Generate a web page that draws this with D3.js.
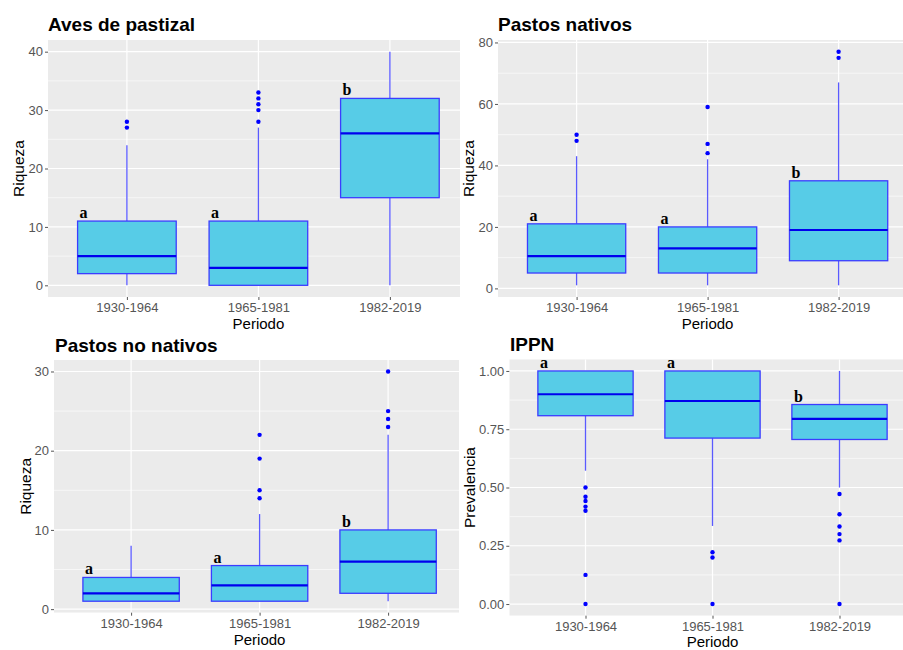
<!DOCTYPE html>
<html>
<head>
<meta charset="utf-8">
<script src="https://cdn.jsdelivr.net/npm/d3@7"></script>
<style>
  body { margin: 0; background: #fff; }
  svg { display: block; font-family: "Liberation Sans", Arial, sans-serif; }
</style>
</head>
<body>
<svg id="chart" width="903" height="650"></svg>
<script>
// categories shared by all four panels
const periods = ["1930-1964", "1965-1981", "1982-2019"];

// box stats per period: [lower whisker, q1, median, q3, upper whisker]
const avesStats = [[0, 2, 5, 11, 24], [0, 0, 3, 11, 27], [0, 15, 26, 32, 40]];
const avesOutliers = [[27, 28], [28, 30, 31, 32, 33], []];
const avesLetters = ["a", "a", "b"];
const avesTicks = [0, 10, 20, 30, 40];

const nativosStats = [[1, 5, 10.5, 21, 43], [1, 5, 13, 20, 42], [1, 9, 19, 35, 67]];
const nativosOutliers = [[48, 50], [44, 47, 59], [75, 77]];
const nativosLetters = ["a", "a", "b"];
const nativosTicks = [0, 20, 40, 60, 80];

const noNativosStats = [[1, 1, 2, 4, 8], [1, 1, 3, 5.5, 12], [1, 2, 6, 10, 22]];
const noNativosOutliers = [[], [14, 15, 19, 22], [23, 24, 25, 30]];
const noNativosLetters = ["a", "a", "b"];
const noNativosTicks = [0, 10, 20, 30];

const ippnStats = [[0.572, 0.808, 0.9, 1, 1], [0.335, 0.712, 0.871, 1, 1], [0.5, 0.706, 0.794, 0.856, 1]];
const ippnOutliers = [[0.5, 0.46, 0.442, 0.418, 0.4, 0.125, 0], [0.222, 0.2, 0], [0.472, 0.385, 0.333, 0.3, 0.273, 0]];
const ippnLetters = ["a", "a", "b"];
const ippnTicks = [0, 0.25, 0.5, 0.75, 1];

// panel placement (layout only)
const panels = [
    { title: "Aves de pastizal", yTitle: "Riqueza", stats: avesStats, outliers: avesOutliers,
      letters: avesLetters, ticks: avesTicks, fmt: d3.format("d"),
      x0: 48, step: 131.5, right: 460, top: 40, bottom: 297, titleX: 48, titleY: 31, yTitleX: 24 },
    { title: "Pastos nativos", yTitle: "Riqueza", stats: nativosStats, outliers: nativosOutliers,
      letters: nativosLetters, ticks: nativosTicks, fmt: d3.format("d"),
      x0: 498, step: 131, right: 903, top: 40, bottom: 297, titleX: 498, titleY: 31, yTitleX: 474 },
    { title: "Pastos no nativos", yTitle: "Riqueza", stats: noNativosStats, outliers: noNativosOutliers,
      letters: noNativosLetters, ticks: noNativosTicks, fmt: d3.format("d"),
      x0: 54, step: 128.5, right: 459, top: 360, bottom: 612.7, titleX: 55, titleY: 352, yTitleX: 31 },
    { title: "IPPN", yTitle: "Prevalencia", stats: ippnStats, outliers: ippnOutliers,
      letters: ippnLetters, ticks: ippnTicks, fmt: d3.format(".2f"),
      x0: 509.3, step: 127, right: 903, top: 359.3, bottom: 615.7, titleX: 510, titleY: 351, yTitleX: 475 }
];

const svg = d3.select("#chart");

panels.forEach(drawPanel);

function drawPanel(p, idx) {
    let g = svg.append("g");
    let fullW = p.step * 3.2;

    let x = d3.scalePoint().domain(periods)
        .range([p.x0, p.x0 + fullW]).padding(0.6);

    // ggplot style 5% expansion around data range
    let all = p.stats.flat().concat(p.outliers.flat());
    let lo = d3.min(all), hi = d3.max(all), pad = (hi - lo) * 0.05;
    let y = d3.scaleLinear().domain([lo - pad, hi + pad]).range([p.bottom, p.top]);

    let clipId = "clip" + idx;
    g.append("clipPath").attr("id", clipId)
        .append("rect")
        .attr("x", p.x0).attr("y", p.top)
        .attr("width", p.right - p.x0).attr("height", p.bottom - p.top);

    let bg = g.append("g").attr("clip-path", "url(#" + clipId + ")");
    bg.append("rect")
        .attr("x", p.x0).attr("y", p.top)
        .attr("width", fullW).attr("height", p.bottom - p.top)
        .attr("fill", "#EBEBEB");

    // minor grid lines halfway between major ticks
    let tstep = p.ticks[1] - p.ticks[0];
    let minor = [];
    for (let v = p.ticks[0] - tstep / 2; v <= hi + pad; v += tstep)
        if (v >= lo - pad) minor.push(v);

    bg.selectAll("line.minor").data(minor).enter().append("line")
        .attr("x1", p.x0).attr("x2", p.x0 + fullW)
        .attr("y1", d => y(d)).attr("y2", d => y(d))
        .attr("stroke", "#fff").attr("stroke-width", 0.6);

    bg.selectAll("line.major").data(p.ticks).enter().append("line")
        .attr("x1", p.x0).attr("x2", p.x0 + fullW)
        .attr("y1", d => y(d)).attr("y2", d => y(d))
        .attr("stroke", "#fff").attr("stroke-width", 1.2);

    bg.selectAll("line.vmajor").data(periods).enter().append("line")
        .attr("x1", d => x(d)).attr("x2", d => x(d))
        .attr("y1", p.top).attr("y2", p.bottom)
        .attr("stroke", "#fff").attr("stroke-width", 1.2);

    // axes
    let yAxis = g.append("g")
        .attr("transform", "translate(" + p.x0 + ",0)")
        .call(d3.axisLeft(y).tickValues(p.ticks).tickFormat(p.fmt).tickSize(3).tickPadding(2));
    let xAxis = g.append("g")
        .attr("transform", "translate(0," + p.bottom + ")")
        .call(d3.axisBottom(x).tickSize(3).tickPadding(3));

    [yAxis, xAxis].forEach(a => {
        a.select(".domain").remove();
        a.selectAll(".tick line").attr("stroke", "#555");
        a.selectAll(".tick text")
            .attr("fill", "#555")
            .style("font-size", "13px")
            .style("font-family", "'Liberation Sans', Arial, sans-serif");
    });

    // boxes
    let bw = p.step * 0.75;
    let box = g.selectAll("g.box").data(periods).enter().append("g").attr("class", "box");

    box.append("line")
        .attr("x1", d => x(d)).attr("x2", d => x(d))
        .attr("y1", (d, i) => y(p.stats[i][4])).attr("y2", (d, i) => y(p.stats[i][3]))
        .attr("stroke", "#5A5AFF").attr("stroke-width", 1.3);
    box.append("line")
        .attr("x1", d => x(d)).attr("x2", d => x(d))
        .attr("y1", (d, i) => y(p.stats[i][1])).attr("y2", (d, i) => y(p.stats[i][0]))
        .attr("stroke", "#5A5AFF").attr("stroke-width", 1.3);

    box.append("rect")
        .attr("x", d => x(d) - bw / 2)
        .attr("y", (d, i) => y(p.stats[i][3]))
        .attr("width", bw)
        .attr("height", (d, i) => y(p.stats[i][1]) - y(p.stats[i][3]))
        .attr("fill", "#57CCE7")
        .attr("stroke", "#3C3CFF").attr("stroke-width", 1.3);

    box.append("line")
        .attr("x1", d => x(d) - bw / 2).attr("x2", d => x(d) + bw / 2)
        .attr("y1", (d, i) => y(p.stats[i][2])).attr("y2", (d, i) => y(p.stats[i][2]))
        .attr("stroke", "#0000EE").attr("stroke-width", 2.2);

    box.each(function (d, i) {
        d3.select(this).selectAll("circle").data(p.outliers[i]).enter().append("circle")
            .attr("cx", x(d)).attr("cy", v => y(v)).attr("r", 2.2)
            .attr("fill", "#0000FF");
    });

    // significance letters
    box.append("text")
        .attr("x", d => x(d) - bw / 2 + 2)
        .attr("y", (d, i) => y(p.stats[i][3]) - 3)
        .style("font-family", "'Liberation Serif', 'Times New Roman', serif")
        .style("font-weight", "bold")
        .style("font-size", "16px")
        .text((d, i) => p.letters[i]);

    // titles
    g.append("text")
        .attr("x", p.titleX).attr("y", p.titleY)
        .style("font-weight", "bold").style("font-size", "19px")
        .text(p.title);

    g.append("text")
        .attr("transform", "translate(" + p.yTitleX + "," + ((p.top + p.bottom) / 2) + ") rotate(-90)")
        .attr("text-anchor", "middle")
        .style("font-size", "15.5px")
        .text(p.yTitle);

    g.append("text")
        .attr("x", p.x0 + fullW / 2).attr("y", Math.min(p.bottom + 32, 646.5))
        .attr("text-anchor", "middle")
        .style("font-size", "15px")
        .text("Periodo");
}
</script>
</body>
</html>
